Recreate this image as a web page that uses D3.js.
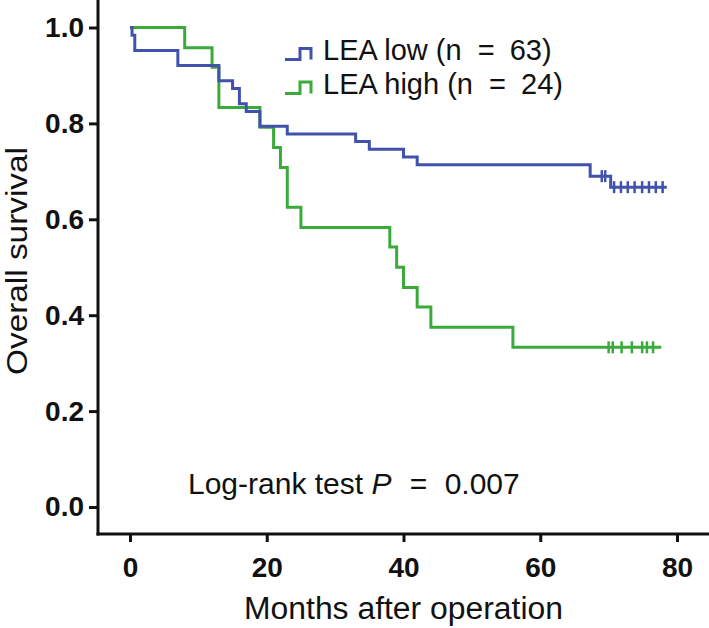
<!DOCTYPE html>
<html><head><meta charset="utf-8">
<script src="https://cdn.jsdelivr.net/npm/d3@7"></script>
<style>
html,body{margin:0;padding:0;background:#fff;}
svg{display:block;}
text{font-family:"Liberation Sans",Arial,Helvetica,sans-serif;fill:#111;}
</style></head>
<body>
<svg id="chart" width="709" height="628"></svg>
<script>
// ---- data (months, survival probability) ----
const lowTimes = [0, 0.3, 0.7, 7, 13, 15, 16, 17, 19, 23, 33, 35, 40, 42, 67.3, 70.3];
const lowSurv  = [1, 0.984, 0.952, 0.921, 0.889, 0.873, 0.841, 0.825, 0.794, 0.778, 0.762, 0.746, 0.730, 0.714, 0.690, 0.667];
const lowEnd = 78.5;
const lowCensor = [69.0, 69.5, 70.8, 71.8, 72.8, 73.8, 74.9, 75.9, 76.9, 77.9];

const highTimes = [0, 8, 12, 13, 19, 21, 22, 23, 25, 38, 39, 40, 42, 44, 56];
const highSurv  = [1, 0.958, 0.917, 0.833, 0.792, 0.75, 0.708, 0.625, 0.583, 0.542, 0.5, 0.458, 0.417, 0.375, 0.333];
const highEnd = 77.7;
const highCensor = [70.0, 70.6, 71.9, 73.4, 74.9, 75.6, 76.5];

const seriesLabels = ["LEA low", "LEA high"];
const seriesN = [63, 24];
const xTicks = [0, 20, 40, 60, 80];
const yTicks = [0, 0.2, 0.4, 0.6, 0.8, 1.0];
const xTitle = "Months after operation";
const yTitle = "Overall survival";
const pValue = "0.007";

const BLUE = "#4152ad", GREEN = "#3aab3a";

const svg = d3.select("#chart");
const x = d3.scaleLinear().domain([0, 80]).range([130, 677]);
const y = d3.scaleLinear().domain([0, 1]).range([507, 27.5]);
const axisX = 98, axisY = 534;

// axes
const yAx = svg.append("g").attr("transform", `translate(${axisX},0)`)
  .call(d3.axisLeft(y).tickValues(yTicks).tickFormat(d3.format(".1f")).tickSize(9).tickPadding(5).tickSizeOuter(0));
yAx.select(".domain").remove();
yAx.selectAll("line").attr("stroke", "#111").attr("stroke-width", 3);
yAx.selectAll("text").attr("font-size", 28).attr("font-weight", "bold").attr("font-family", "Liberation Sans, Arial, sans-serif").attr("fill", "#111");

const xAx = svg.append("g").attr("transform", `translate(0,${axisY})`)
  .call(d3.axisBottom(x).tickValues(xTicks).tickFormat(d3.format("d")).tickSize(8).tickPadding(15).tickSizeOuter(0));
xAx.select(".domain").remove();
xAx.selectAll("line").attr("stroke", "#111").attr("stroke-width", 3);
xAx.selectAll("text").attr("font-size", 28).attr("font-weight", "bold").attr("font-family", "Liberation Sans, Arial, sans-serif").attr("fill", "#111");

svg.append("line").attr("x1", axisX).attr("x2", axisX).attr("y1", 0).attr("y2", axisY + 1.5)
  .attr("stroke", "#111").attr("stroke-width", 3);
svg.append("line").attr("x1", axisX - 1.5).attr("x2", 709).attr("y1", axisY).attr("y2", axisY)
  .attr("stroke", "#111").attr("stroke-width", 3);

// curves
function stepAt(times, surv, t) {
  let s = surv[0];
  for (let i = 0; i < times.length; i++) if (times[i] <= t) s = surv[i];
  return s;
}
function drawSeries(times, surv, end, censor, color) {
  const pts = times.map((t, i) => [t, surv[i]]);
  pts.push([end, surv[surv.length - 1]]);
  const line = d3.line().x(d => x(d[0])).y(d => y(d[1])).curve(d3.curveStepAfter);
  svg.append("path").attr("d", line(pts)).attr("fill", "none")
    .attr("stroke", color).attr("stroke-width", 3);
  svg.append("g").selectAll("line").data(censor).join("line")
    .attr("x1", d => x(d)).attr("x2", d => x(d))
    .attr("y1", d => y(stepAt(times, surv, d)) - 6)
    .attr("y2", d => y(stepAt(times, surv, d)) + 6)
    .attr("stroke", color).attr("stroke-width", 2.5);
}
drawSeries(highTimes, highSurv, highEnd, highCensor, GREEN);
drawSeries(lowTimes, lowSurv, lowEnd, lowCensor, BLUE);

// legend
const legendColors = [BLUE, GREEN];
const legendRows = [{bottom: 59.5, top: 48.5}, {bottom: 93.5, top: 82}];
seriesLabels.forEach((name, i) => {
  const r = legendRows[i];
  svg.append("path")
    .attr("d", `M285,${r.bottom}H300V${r.top}H311V${r.bottom}`)
    .attr("fill", "none").attr("stroke", legendColors[i]).attr("stroke-width", 3);
  const t = svg.append("text").attr("x", 323).attr("y", r.bottom).attr("font-size", 29);
  t.append("tspan").text(`${name} (n`);
  t.append("tspan").attr("dx", 8).text(" =");
  t.append("tspan").attr("dx", 7).text(` ${seriesN[i]})`);
});

// log-rank annotation
const lr = svg.append("text").attr("x", 188).attr("y", 494).attr("font-size", 30);
lr.append("tspan").text("Log-rank test ");
lr.append("tspan").attr("font-style", "italic").text("P");
lr.append("tspan").attr("dx", 10).text(" =");
lr.append("tspan").attr("dx", 9).text(" " + pValue);

// axis titles
svg.append("text").attr("x", 403.5).attr("y", 619).attr("text-anchor", "middle")
  .attr("font-size", 31).attr("textLength", 319).attr("lengthAdjust", "spacingAndGlyphs").text(xTitle);
svg.append("text").attr("transform", "translate(27,261) rotate(-90)").attr("text-anchor", "middle")
  .attr("font-size", 30).attr("textLength", 228).attr("lengthAdjust", "spacingAndGlyphs").text(yTitle);
</script>
</body></html>
